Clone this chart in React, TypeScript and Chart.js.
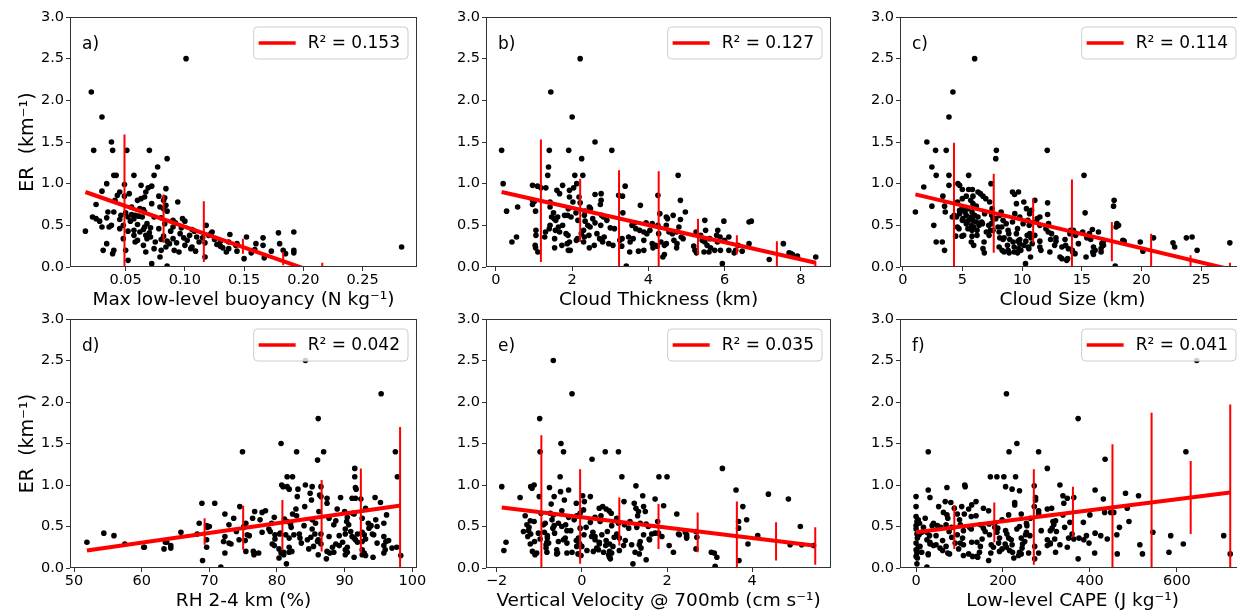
import React, { useEffect, useRef } from "react";
import { Chart, registerables } from "chart.js";

Chart.register(...registerables);

const FONT = "'DejaVu Sans', 'Liberation Sans', sans-serif";
const RED = "#ff0000";
const INK = "#000000";
const SPINE = "#333333";

// ---------- shared y axis ----------
const erTicks = [0, 0.5, 1.0, 1.5, 2.0, 2.5, 3.0];
const erTitle = "ER  (km\u207B\u00B9)";

// ---------- a) Max low-level buoyancy ----------
const buoyancyPoints: [number, number][] = [
  [0.101, 2.5], [0.021, 2.1], [0.03, 1.8], [0.038, 1.5],
  [0.023, 1.4], [0.039, 1.4], [0.051, 1.4], [0.07, 1.4],
  [0.085, 1.3], [0.077, 1.2],
  [0.04, 1.1], [0.042, 1.1], [0.057, 1.1], [0.074, 1.1],
  [0.034, 1.0], [0.049, 0.99], [0.063, 0.98], [0.072, 0.97],
  [0.084, 0.94], [0.069, 0.95],
  [0.03, 0.91], [0.045, 0.9], [0.067, 0.9], [0.053, 0.88],
  [0.043, 0.86], [0.049, 0.85], [0.066, 0.84], [0.078, 0.85],
  [0.041, 0.8], [0.06, 0.8], [0.063, 0.82], [0.082, 0.8], [0.083, 0.83],
  [0.094, 0.78],
  [0.025, 0.75], [0.072, 0.76], [0.084, 0.74],
  [0.055, 0.72], [0.079, 0.72],
  [0.062, 0.7], [0.065, 0.69], [0.082, 0.7],
  [0.035, 0.66], [0.04, 0.66], [0.05, 0.65], [0.066, 0.66], [0.085, 0.67],
  [0.046, 0.62], [0.055, 0.63], [0.058, 0.62], [0.061, 0.61],
  [0.022, 0.6], [0.034, 0.59], [0.052, 0.6], [0.064, 0.6], [0.074, 0.6], [0.08, 0.59],
  [0.025, 0.58], [0.045, 0.57], [0.057, 0.58], [0.098, 0.58],
  [0.028, 0.55], [0.054, 0.55], [0.1, 0.55], [0.09, 0.56],
  [0.068, 0.52], [0.083, 0.52], [0.092, 0.53],
  [0.048, 0.5], [0.038, 0.5], [0.06, 0.51], [0.118, 0.5],
  [0.03, 0.48], [0.036, 0.48], [0.066, 0.48], [0.071, 0.47], [0.09, 0.48], [0.097, 0.47],
  [0.045, 0.46], [0.065, 0.45], [0.078, 0.46], [0.106, 0.45],
  [0.016, 0.43], [0.052, 0.43], [0.057, 0.44], [0.062, 0.42], [0.088, 0.43], [0.108, 0.43], [0.123, 0.42],
  [0.07, 0.41], [0.096, 0.4], [0.122, 0.4], [0.179, 0.41], [0.192, 0.42],
  [0.057, 0.38], [0.067, 0.38], [0.082, 0.37], [0.104, 0.38], [0.12, 0.38], [0.138, 0.39],
  [0.071, 0.36], [0.099, 0.35], [0.11, 0.36], [0.115, 0.35], [0.152, 0.36],
  [0.048, 0.34], [0.068, 0.34], [0.08, 0.33], [0.09, 0.34], [0.125, 0.33], [0.166, 0.35],
  [0.06, 0.32], [0.085, 0.31], [0.102, 0.32], [0.13, 0.31],
  [0.058, 0.3], [0.075, 0.3], [0.093, 0.29], [0.112, 0.3], [0.117, 0.29], [0.137, 0.3],
  [0.034, 0.28], [0.087, 0.28], [0.127, 0.27], [0.144, 0.28], [0.16, 0.28], [0.18, 0.28],
  [0.065, 0.26], [0.1, 0.26], [0.13, 0.25], [0.143, 0.26], [0.166, 0.26],
  [0.084, 0.24], [0.106, 0.24], [0.132, 0.23], [0.283, 0.24],
  [0.074, 0.22], [0.105, 0.22], [0.137, 0.22], [0.159, 0.21],
  [0.031, 0.2], [0.04, 0.2], [0.05, 0.2], [0.08, 0.2], [0.091, 0.2], [0.109, 0.19], [0.144, 0.19], [0.173, 0.19], [0.183, 0.2], [0.192, 0.2],
  [0.067, 0.18], [0.095, 0.18], [0.135, 0.18], [0.156, 0.17], [0.192, 0.17],
  [0.039, 0.16], [0.185, 0.16],
  [0.079, 0.12], [0.117, 0.12],
  [0.15, 0.1], [0.167, 0.11],
  [0.052, 0.08], [0.072, 0.04], [0.085, 0.01],
];
const buoyancyFit = [0.9795, -4.97]; // intercept, slope
const buoyancyBinX = [0.049, 0.082, 0.116, 0.149, 0.183, 0.216];
const buoyancyBinLo = [-0.05, 0.29, 0.06, 0.16, 0.02, -0.05];
const buoyancyBinHi = [1.59, 0.87, 0.79, 0.34, 0.18, 0.05];
const buoyancyTicks = [0.05, 0.1, 0.15, 0.2, 0.25];

// ---------- b) Cloud thickness ----------
const thicknessPoints: [number, number][] = [
  [2.21, 2.5], [1.44, 2.1], [2.0, 1.8], [2.6, 1.5],
  [0.15, 1.4], [1.4, 1.4], [1.91, 1.4], [3.04, 1.4],
  [2.25, 1.3], [1.38, 1.2],
  [1.36, 1.1], [2.07, 1.1], [2.28, 1.1], [4.78, 1.1],
  [0.19, 1.0], [2.12, 1.0],
  [0.96, 0.98], [1.09, 0.97], [1.75, 0.98], [3.39, 0.97],
  [1.18, 0.95], [1.31, 0.95], [2.04, 0.95],
  [1.6, 0.92], [1.93, 0.92],
  [1.67, 0.88], [2.6, 0.87], [2.76, 0.88],
  [3.22, 0.86], [3.32, 0.85], [4.25, 0.86],
  [1.93, 0.84], [2.18, 0.84],
  [0.96, 0.8], [1.01, 0.79], [4.84, 0.8], [2.76, 0.8],
  [1.42, 0.78], [2.02, 0.78], [2.21, 0.77],
  [0.96, 0.75], [2.74, 0.75], [3.79, 0.74],
  [0.57, 0.72], [1.42, 0.72], [2.45, 0.72],
  [2.48, 0.7], [1.9, 0.7],
  [0.28, 0.67], [1.04, 0.67], [2.34, 0.67], [4.97, 0.66],
  [1.51, 0.65], [2.1, 0.65], [3.33, 0.65], [4.3, 0.64],
  [1.8, 0.62], [1.88, 0.62], [2.32, 0.62], [2.77, 0.62], [4.65, 0.62],
  [1.46, 0.6], [1.62, 0.6], [1.97, 0.6], [2.82, 0.6], [4.47, 0.6],
  [1.53, 0.58], [2.54, 0.58], [4.84, 0.57], [4.5, 0.58],
  [1.57, 0.56], [2.15, 0.56], [2.91, 0.56], [5.48, 0.56], [6.7, 0.55],
  [2.34, 0.55], [6.64, 0.54], [5.98, 0.55],
  [2.6, 0.53], [3.64, 0.53], [3.94, 0.53], [4.1, 0.52],
  [1.42, 0.5], [1.75, 0.5], [2.41, 0.5], [2.75, 0.5], [3.57, 0.5], [4.25, 0.5], [4.47, 0.5],
  [1.64, 0.48], [2.47, 0.48], [3.0, 0.47], [4.8, 0.48],
  [1.4, 0.46], [3.11, 0.46], [3.67, 0.46],
  [1.05, 0.44], [1.56, 0.44], [2.3, 0.44], [3.77, 0.44], [4.04, 0.44], [5.5, 0.44], [5.82, 0.44],
  [1.3, 0.42], [1.67, 0.42], [3.88, 0.42], [4.54, 0.42], [4.74, 0.42], [5.25, 0.42],
  [1.84, 0.4], [2.24, 0.4], [2.65, 0.4], [3.96, 0.4], [4.27, 0.4], [4.63, 0.4],
  [1.05, 0.38], [1.89, 0.38], [2.44, 0.38], [5.37, 0.38], [5.79, 0.38],
  [0.54, 0.36], [1.28, 0.36], [2.32, 0.36], [2.84, 0.36], [3.48, 0.36], [4.86, 0.36], [5.88, 0.36], [6.11, 0.36],
  [1.54, 0.34], [2.14, 0.34], [2.72, 0.34], [3.31, 0.34], [3.6, 0.34], [4.91, 0.34], [5.61, 0.34],
  [2.11, 0.32], [2.78, 0.32], [3.25, 0.32], [3.88, 0.32], [4.67, 0.32], [5.41, 0.32], [6.0, 0.32],
  [0.42, 0.3], [1.93, 0.3], [2.3, 0.3], [2.8, 0.3], [3.52, 0.3], [4.33, 0.3], [5.48, 0.3], [5.81, 0.3],
  [1.87, 0.28], [2.96, 0.28], [4.1, 0.28], [4.47, 0.28], [4.75, 0.28], [6.64, 0.28], [7.54, 0.28],
  [1.03, 0.26], [1.73, 0.26], [2.58, 0.26], [3.07, 0.26], [4.18, 0.26], [4.42, 0.26], [5.54, 0.26], [6.35, 0.26],
  [4.23, 0.25], [3.3, 0.25], [5.19, 0.25],
  [1.04, 0.23], [1.54, 0.23], [2.45, 0.23], [4.12, 0.23], [4.74, 0.23], [5.63, 0.23],
  [1.9, 0.2], [1.95, 0.2], [3.88, 0.2], [5.22, 0.2], [5.74, 0.2], [5.89, 0.2], [6.11, 0.2], [6.29, 0.2],
  [6.46, 0.19], [3.74, 0.19],
  [1.1, 0.18], [3.51, 0.18], [5.46, 0.18], [5.59, 0.18], [7.69, 0.17],
  [5.26, 0.17], [6.25, 0.17], [7.74, 0.16],
  [7.78, 0.15], [4.42, 0.15],
  [7.91, 0.13], [4.38, 0.12], [8.39, 0.12],
  [7.17, 0.09], [5.94, 0.04], [3.42, 0.01],
];
const thicknessFit = [0.915, -0.103];
const thicknessBinX = [1.18, 2.21, 3.23, 4.27, 5.3, 6.32, 7.37, 8.38];
const thicknessBinLo = [0.06, 0.3, -0.05, -0.05, 0.15, 0.15, 0.0, -0.02];
const thicknessBinHi = [1.53, 1.06, 1.16, 1.15, 0.58, 0.38, 0.31, 0.07];
const thicknessTicks = [0, 2, 4, 6, 8];

// ---------- c) Cloud size ----------
const sizePoints: [number, number][] = [
  [6.02, 2.5], [4.2, 2.1], [3.87, 1.8], [2.02, 1.5],
  [2.75, 1.4], [3.64, 1.4], [7.84, 1.4], [12.1, 1.4],
  [7.79, 1.3], [2.44, 1.2],
  [2.8, 1.1], [3.87, 1.1], [5.52, 1.1], [15.18, 1.1],
  [4.62, 1.0], [7.39, 1.0],
  [3.87, 0.98], [4.76, 0.98], [1.76, 0.96],
  [5.52, 0.93], [5.83, 0.93], [4.99, 0.93],
  [6.3, 0.9], [9.19, 0.9], [9.69, 0.9],
  [6.5, 0.88], [9.36, 0.87],
  [3.36, 0.85], [5.32, 0.85], [5.88, 0.85], [6.72, 0.85],
  [4.99, 0.82], [6.95, 0.82],
  [17.7, 0.8], [5.69, 0.8], [11.06, 0.8],
  [4.59, 0.78], [7.28, 0.78], [10.14, 0.78], [12.13, 0.77],
  [5.88, 0.76], [9.52, 0.76],
  [2.44, 0.73], [3.5, 0.73], [17.65, 0.73], [6.16, 0.73],
  [4.99, 0.7], [5.46, 0.7], [7.48, 0.7], [10.36, 0.7],
  [4.76, 0.68], [5.13, 0.68], [10.78, 0.68],
  [1.06, 0.66], [3.56, 0.66], [5.21, 0.66], [5.8, 0.66], [8.24, 0.66], [15.27, 0.65],
  [4.76, 0.64], [6.86, 0.64], [9.38, 0.64], [10.62, 0.64], [12.13, 0.63],
  [4.31, 0.62], [5.32, 0.62], [6.02, 0.62], [7.45, 0.62], [8.12, 0.62],
  [4.15, 0.6], [4.51, 0.6], [5.71, 0.6], [6.3, 0.6], [9.8, 0.6], [11.48, 0.6],
  [5.04, 0.58], [7.56, 0.58], [7.79, 0.58], [11.26, 0.58],
  [4.99, 0.56], [5.52, 0.56], [5.88, 0.56], [8.4, 0.56], [10.48, 0.56],
  [5.38, 0.54], [6.16, 0.54], [6.61, 0.54], [9.19, 0.54], [11.2, 0.54],
  [5.32, 0.52], [6.67, 0.52], [7.42, 0.52], [8.66, 0.52], [10.08, 0.52], [12.21, 0.52], [17.93, 0.52],
  [2.6, 0.5], [5.77, 0.5], [6.39, 0.5], [7.2, 0.5], [10.59, 0.5], [11.48, 0.5], [18.07, 0.5],
  [4.57, 0.48], [5.94, 0.48], [7.98, 0.48], [8.29, 0.48], [17.87, 0.48],
  [4.71, 0.46], [5.46, 0.46], [9.61, 0.46], [11.99, 0.46], [15.88, 0.45],
  [5.8, 0.44], [6.22, 0.44], [7.34, 0.44], [7.56, 0.44], [8.82, 0.44], [14.06, 0.44], [14.29, 0.44],
  [7.0, 0.42], [8.07, 0.42], [12.18, 0.42], [15.07, 0.42], [16.39, 0.42],
  [8.88, 0.4], [9.52, 0.4], [10.64, 0.4], [12.46, 0.4], [14.0, 0.4], [15.63, 0.4],
  [5.1, 0.38], [6.22, 0.38], [7.23, 0.38], [10.42, 0.38], [11.06, 0.38], [14.48, 0.38],
  [4.43, 0.37], [4.96, 0.37], [5.8, 0.37], [15.55, 0.37],
  [8.12, 0.35], [8.49, 0.35], [10.73, 0.35], [12.83, 0.35], [15.41, 0.35], [21.0, 0.35], [23.75, 0.35], [24.23, 0.36],
  [8.4, 0.33], [8.96, 0.33], [9.8, 0.33], [12.38, 0.33], [13.59, 0.33], [15.74, 0.33], [18.43, 0.32],
  [9.66, 0.31], [10.31, 0.31], [11.48, 0.31], [12.83, 0.31], [16.81, 0.31], [18.54, 0.31],
  [2.8, 0.3], [3.31, 0.3], [5.74, 0.3], [6.81, 0.3], [9.24, 0.3], [19.89, 0.3], [27.39, 0.29],
  [9.8, 0.28], [10.84, 0.28], [14.71, 0.28], [16.67, 0.28], [22.63, 0.29],
  [5.94, 0.26], [8.77, 0.26], [10.14, 0.26], [12.72, 0.26], [13.64, 0.26], [16.81, 0.26],
  [8.07, 0.24], [9.33, 0.24], [10.5, 0.24], [11.48, 0.24], [13.33, 0.24], [15.97, 0.24], [22.77, 0.24],
  [6.72, 0.22], [9.72, 0.22], [10.56, 0.22], [13.87, 0.22], [16.61, 0.22],
  [3.5, 0.2], [8.32, 0.2], [8.82, 0.2], [9.89, 0.2], [11.57, 0.2], [14.2, 0.2], [16.11, 0.2], [20.11, 0.19], [24.65, 0.2],
  [8.49, 0.18], [9.33, 0.18], [12.32, 0.18], [14.23, 0.18], [15.91, 0.18], [16.61, 0.18],
  [6.83, 0.17], [8.91, 0.17], [9.61, 0.17],
  [15.97, 0.15], [14.43, 0.16],
  [10.7, 0.12], [13.17, 0.12], [15.35, 0.12],
  [13.33, 0.1], [13.81, 0.1], [13.73, 0.08], [10.28, 0.04], [17.79, 0.01],
];
const sizeFit = [0.907, -0.0341];
const sizeBinX = [4.29, 7.62, 10.92, 14.17, 17.51, 20.8, 24.1, 27.4];
const sizeBinLo = [-0.05, 0.17, 0.29, -0.05, 0.07, 0.01, -0.02, -0.02];
const sizeBinHi = [1.49, 1.12, 0.82, 1.05, 0.54, 0.4, 0.14, 0.05];
const sizeTicks = [0, 5, 10, 15, 20, 25];

// ---------- d) RH 2-4 km ----------
const rhPoints: [number, number][] = [
  [84.2, 2.5], [95.4, 2.1], [86.1, 1.8], [80.6, 1.5],
  [74.9, 1.4], [82.9, 1.4], [86.9, 1.4], [97.5, 1.4],
  [86.0, 1.3], [91.5, 1.2],
  [81.5, 1.1], [82.3, 1.1], [91.5, 1.1], [97.8, 1.1],
  [80.7, 1.0], [80.9, 0.98], [84.2, 1.0], [85.2, 0.98], [91.6, 0.97],
  [81.5, 0.98], [86.5, 0.98],
  [81.8, 0.95], [83.1, 0.95], [91.7, 0.95],
  [84.9, 0.9], [86.3, 0.88],
  [83.0, 0.86], [86.5, 0.86], [89.4, 0.85], [94.5, 0.85],
  [87.4, 0.84], [91.6, 0.84], [92.4, 0.83],
  [85.1, 0.82], [91.1, 0.84],
  [68.9, 0.78], [70.8, 0.78], [87.4, 0.78], [95.3, 0.79],
  [74.5, 0.74], [84.1, 0.74],
  [82.8, 0.71], [88.9, 0.71], [93.1, 0.72],
  [77.8, 0.67], [82.3, 0.65], [91.2, 0.66],
  [76.7, 0.68], [78.3, 0.69], [86.2, 0.68], [90.0, 0.68],
  [72.3, 0.65], [91.4, 0.65], [96.2, 0.64],
  [73.6, 0.6], [79.6, 0.61], [82.9, 0.63], [87.7, 0.6], [90.4, 0.61], [92.6, 0.6],
  [76.4, 0.6], [81.1, 0.59], [85.2, 0.58], [88.7, 0.57], [94.6, 0.58],
  [77.5, 0.58], [81.5, 0.56], [85.7, 0.54], [90.3, 0.56], [93.5, 0.54],
  [68.5, 0.54], [75.4, 0.54], [79.2, 0.54], [82.0, 0.53], [90.6, 0.52], [95.8, 0.54],
  [69.6, 0.51], [70.0, 0.5], [72.9, 0.52], [75.1, 0.5], [84.0, 0.51], [88.4, 0.52], [93.9, 0.51], [94.8, 0.5],
  [69.7, 0.49], [75.1, 0.49], [78.8, 0.47], [82.1, 0.49], [85.2, 0.47], [90.1, 0.47], [93.6, 0.48],
  [65.8, 0.43], [79.0, 0.44], [90.9, 0.44], [92.6, 0.43],
  [74.0, 0.44], [77.8, 0.43], [80.5, 0.42], [85.6, 0.41], [91.9, 0.41], [94.3, 0.4],
  [68.2, 0.41], [80.4, 0.41], [82.5, 0.4], [89.2, 0.39], [94.1, 0.41],
  [75.9, 0.39], [83.3, 0.41], [86.5, 0.41], [90.1, 0.41], [92.9, 0.4],
  [75.6, 0.4], [79.7, 0.4], [81.3, 0.4], [87.7, 0.38], [91.1, 0.38],
  [72.3, 0.38], [85.0, 0.37], [91.4, 0.36], [95.8, 0.38],
  [81.8, 0.36], [83.4, 0.36], [86.1, 0.34], [93.1, 0.35],
  [74.4, 0.34], [79.7, 0.35], [91.6, 0.34], [96.5, 0.33],
  [75.3, 0.33], [84.5, 0.34], [86.0, 0.32], [92.6, 0.32],
  [51.9, 0.31], [72.1, 0.32], [91.9, 0.31], [96.1, 0.32],
  [63.5, 0.31], [69.6, 0.34], [72.9, 0.3], [83.6, 0.3], [89.7, 0.31], [94.8, 0.3],
  [73.2, 0.29], [79.3, 0.29], [86.5, 0.29], [88.7, 0.29],
  [64.3, 0.27], [79.6, 0.27], [85.4, 0.26], [89.2, 0.27], [95.8, 0.27],
  [60.3, 0.25], [69.6, 0.25], [81.8, 0.25], [88.2, 0.25], [90.4, 0.25], [97.7, 0.25],
  [63.3, 0.23], [64.3, 0.24], [80.3, 0.23], [84.7, 0.23], [97.0, 0.24],
  [90.1, 0.22], [92.6, 0.22], [96.0, 0.22],
  [75.4, 0.2], [76.5, 0.2], [81.0, 0.19], [82.2, 0.2], [87.4, 0.2], [88.4, 0.19], [90.4, 0.19],
  [72.3, 0.18], [76.7, 0.18], [77.3, 0.18], [80.6, 0.18], [81.8, 0.19], [87.8, 0.18], [92.9, 0.18], [95.8, 0.18],
  [76.6, 0.16], [81.0, 0.16],
  [86.1, 0.16], [90.1, 0.16], [92.6, 0.16],
  [93.1, 0.15], [98.3, 0.15],
  [91.4, 0.13], [94.2, 0.13],
  [80.3, 0.12], [87.3, 0.11], [69.0, 0.09], [81.4, 0.05], [71.7, 0.01],
  [54.4, 0.42], [55.9, 0.39], [60.4, 0.25], [63.7, 0.31], [57.5, 0.29],
];
const rhFit = [-0.399, 0.01173];
const rhBinX = [69.3, 75.0, 80.8, 86.6, 92.4, 98.2];
const rhBinLo = [0.28, 0.22, 0.22, 0.2, 0.18, -0.05];
const rhBinHi = [0.6, 0.75, 0.82, 1.06, 1.2, 1.7];
const rhTicks = [50, 60, 70, 80, 90, 100];

// ---------- e) Vertical velocity @ 700 mb ----------
const omegaPoints: [number, number][] = [
  [-0.67, 2.5], [-0.23, 2.1], [-0.99, 1.8], [-0.49, 1.5],
  [-0.98, 1.4], [-0.43, 1.4], [0.55, 1.4], [0.86, 1.4],
  [0.24, 1.31], [3.3, 1.2],
  [-0.51, 1.1], [0.94, 1.1], [1.81, 1.1], [2.0, 1.1],
  [-1.88, 0.98], [-1.2, 0.98], [-1.12, 1.0], [-1.17, 0.96], [-0.76, 0.97], [1.27, 0.99],
  [-0.31, 0.94], [-0.5, 0.92], [3.62, 0.94],
  [4.38, 0.89],
  [-1.45, 0.85], [-1.0, 0.86], [-0.65, 0.86], [0.02, 0.87], [0.2, 0.86], [1.43, 0.87],
  [-0.41, 0.82], [1.72, 0.83], [4.85, 0.83],
  [0.06, 0.8], [0.99, 0.8],
  [-0.13, 0.78], [1.23, 0.78], [1.92, 0.75], [3.78, 0.74],
  [-0.72, 0.77], [0.49, 0.74], [1.45, 0.74],
  [-0.47, 0.69], [0.41, 0.72], [0.57, 0.71], [1.27, 0.72],
  [0.04, 0.7], [0.64, 0.69], [1.33, 0.68], [1.49, 0.68],
  [-0.96, 0.66], [-0.74, 0.66], [-0.04, 0.66], [0.69, 0.66],
  [-0.67, 0.64], [0.45, 0.63], [1.31, 0.63], [2.23, 0.65], [3.87, 0.58],
  [-1.33, 0.63], [-0.12, 0.63], [-0.31, 0.61], [0.31, 0.61], [0.82, 0.6],
  [-1.12, 0.56], [-0.7, 0.58], [-0.18, 0.58], [0.43, 0.56], [1.13, 0.56], [1.78, 0.56],
  [-1.21, 0.57], [-0.86, 0.54], [-0.55, 0.54], [0.2, 0.55], [0.86, 0.54], [1.37, 0.54], [3.68, 0.56],
  [-1.29, 0.52], [-0.9, 0.52], [-0.38, 0.52], [0.7, 0.51], [1.0, 0.52], [1.51, 0.53],
  [-0.65, 0.51], [-0.47, 0.5], [0.1, 0.49], [1.29, 0.49], [1.56, 0.5], [5.13, 0.5],
  [-1.24, 0.49], [-0.68, 0.48], [-0.04, 0.48], [1.1, 0.48], [3.68, 0.48],
  [-1.25, 0.45], [-0.26, 0.45], [0.26, 0.43], [0.82, 0.41], [1.72, 0.42],
  [-0.88, 0.43], [-0.35, 0.45], [0.6, 0.44], [1.45, 0.4], [2.27, 0.41],
  [-1.37, 0.44], [-1.02, 0.42], [-0.64, 0.42], [0.47, 0.4], [1.64, 0.41], [1.8, 0.42], [2.43, 0.43], [2.68, 0.44],
  [-1.2, 0.41], [-0.81, 0.39], [0.05, 0.4], [2.29, 0.4], [2.46, 0.4],
  [-1.27, 0.38], [-0.81, 0.36], [0.23, 0.38], [0.88, 0.36], [2.46, 0.38], [2.7, 0.37], [4.13, 0.39],
  [-0.08, 0.36], [0.31, 0.38], [0.76, 0.37], [1.88, 0.38],
  [-0.98, 0.35], [-0.39, 0.36], [0.31, 0.34], [1.58, 0.35], [2.46, 0.36],
  [-0.43, 0.34], [-0.13, 0.33], [0.57, 0.33], [1.02, 0.33], [1.37, 0.32], [1.59, 0.34],
  [-1.11, 0.32], [-0.82, 0.31], [-0.55, 0.32], [-0.08, 0.32], [0.41, 0.31],
  [-1.78, 0.31], [-1.21, 0.29], [-0.78, 0.3], [-0.35, 0.3], [-0.05, 0.29], [0.65, 0.29], [3.9, 0.29],
  [-0.84, 0.28], [-0.12, 0.26], [0.41, 0.29], [0.56, 0.27], [0.98, 0.27], [1.17, 0.28], [1.35, 0.28], [4.89, 0.28], [5.16, 0.28],
  [0.0, 0.26], [0.73, 0.26], [0.35, 0.24], [2.05, 0.27], [5.44, 0.27],
  [-0.84, 0.24], [0.39, 0.22], [0.88, 0.21], [1.39, 0.24],
  [-1.83, 0.21], [-0.59, 0.22], [0.12, 0.21], [0.51, 0.19], [0.65, 0.2], [2.68, 0.23],
  [-1.16, 0.2], [-0.82, 0.19], [-0.23, 0.19], [0.27, 0.2], [0.7, 0.18], [1.25, 0.19], [2.15, 0.19], [3.04, 0.19], [3.11, 0.18],
  [-1.06, 0.18], [-0.57, 0.18], [-0.35, 0.18], [-0.09, 0.17], [0.63, 0.16], [1.35, 0.17],
  [-1.1, 0.16], [-0.59, 0.17], [-0.02, 0.15], [0.65, 0.14],
  [0.65, 0.13], [3.17, 0.13],
  [0.67, 0.11], [1.51, 0.1],
  [3.69, 0.09], [1.2, 0.05], [3.13, 0.02],
];
const omegaFit = [0.612, -0.0628];
const omegaBinX = [-0.95, -0.04, 0.88, 1.8, 2.72, 3.64, 4.56, 5.48];
const omegaBinLo = [-0.05, 0.05, 0.27, 0.23, 0.19, -0.05, 0.09, 0.04];
const omegaBinHi = [1.6, 1.19, 0.85, 0.77, 0.67, 0.8, 0.55, 0.49];
const omegaTicks = [-2, 0, 2, 4];

// ---------- f) Low-level CAPE ----------
const capePoints: [number, number][] = [
  [646, 2.5], [208, 2.1], [373, 1.8], [232, 1.5],
  [28, 1.4], [214, 1.4], [282, 1.4], [621, 1.4],
  [435, 1.31], [302, 1.2],
  [171, 1.1], [186, 1.1], [202, 1.1], [229, 1.1],
  [112, 1.0], [113, 0.98], [206, 0.98], [331, 1.0], [272, 0.99],
  [71, 0.97], [221, 0.95], [412, 0.94],
  [28, 0.94], [238, 0.93], [482, 0.9],
  [0, 0.86], [32, 0.85], [275, 0.85], [338, 0.87], [512, 0.87], [431, 0.83],
  [275, 0.82], [348, 0.84], [363, 0.85],
  [67, 0.8], [80, 0.79], [138, 0.8], [227, 0.79], [340, 0.78],
  [0, 0.74], [88, 0.72], [128, 0.76], [227, 0.76], [302, 0.71], [486, 0.72],
  [52, 0.74], [105, 0.74], [155, 0.72], [272, 0.74], [455, 0.67], [448, 0.67],
  [121, 0.71], [167, 0.69], [282, 0.69], [312, 0.72],
  [63, 0.67], [95, 0.65], [213, 0.64], [282, 0.66], [434, 0.67],
  [71, 0.64], [111, 0.65], [242, 0.65], [400, 0.64],
  [0, 0.62], [21, 0.6], [127, 0.62], [138, 0.63], [263, 0.6], [338, 0.64],
  [5, 0.58], [73, 0.6], [100, 0.58], [198, 0.58], [315, 0.56], [321, 0.57],
  [2, 0.56], [40, 0.54], [69, 0.52], [181, 0.54], [254, 0.54], [490, 0.56], [354, 0.55],
  [8, 0.54], [49, 0.51], [102, 0.52], [148, 0.52], [168, 0.53], [255, 0.51], [385, 0.55],
  [0, 0.51], [37, 0.51], [57, 0.49], [123, 0.49], [181, 0.49], [238, 0.5], [317, 0.52], [468, 0.49],
  [17, 0.49], [82, 0.49], [127, 0.47], [155, 0.48], [188, 0.48], [313, 0.48], [232, 0.47], [342, 0.49],
  [0, 0.47], [13, 0.43], [76, 0.44], [109, 0.45], [159, 0.44], [206, 0.45], [254, 0.43],
  [25, 0.43], [95, 0.4], [186, 0.43], [209, 0.41], [323, 0.44], [359, 0.41], [412, 0.42], [462, 0.4],
  [2, 0.41], [7, 0.4], [169, 0.4], [252, 0.4], [288, 0.45], [309, 0.45], [545, 0.43],
  [31, 0.39], [46, 0.39], [82, 0.37], [107, 0.36], [192, 0.36], [213, 0.36], [262, 0.39], [392, 0.39], [586, 0.39], [708, 0.39],
  [3, 0.36], [25, 0.34], [152, 0.35], [242, 0.36], [302, 0.34], [319, 0.35], [425, 0.39], [440, 0.35],
  [61, 0.33], [128, 0.31], [219, 0.34], [250, 0.32], [351, 0.36], [375, 0.36],
  [32, 0.31], [90, 0.3], [140, 0.31], [190, 0.3], [309, 0.3], [363, 0.35], [386, 0.34],
  [46, 0.28], [102, 0.3], [205, 0.29], [245, 0.29], [331, 0.28],
  [0, 0.3], [32, 0.29], [69, 0.26], [109, 0.28], [173, 0.28], [221, 0.28], [273, 0.26], [398, 0.3],
  [9, 0.26], [40, 0.27], [148, 0.26], [178, 0.25], [208, 0.25], [309, 0.29], [302, 0.27],
  [5, 0.25], [244, 0.24], [515, 0.28],
  [55, 0.24], [98, 0.23], [198, 0.23], [348, 0.25], [615, 0.29],
  [0, 0.22], [61, 0.21], [192, 0.2], [215, 0.21],
  [2, 0.2], [13, 0.19], [73, 0.18], [146, 0.19], [222, 0.19], [238, 0.19], [259, 0.18], [321, 0.19], [411, 0.18],
  [2, 0.18], [28, 0.17], [121, 0.17], [172, 0.18], [242, 0.17], [282, 0.18], [582, 0.19],
  [28, 0.16], [77, 0.17], [109, 0.15], [140, 0.14], [236, 0.15], [463, 0.17], [521, 0.17], [723, 0.17],
  [0, 0.14], [130, 0.14], [142, 0.13],
  [3, 0.12], [225, 0.12],
  [167, 0.09], [373, 0.11], [273, 0.11],
  [2, 0.05], [25, 0.01],
];
const capeFit = [0.43, 0.000664];
const capeBinX = [88, 180, 271, 361, 452, 542, 632, 723];
const capeBinLo = [0.23, 0.31, 0.04, 0.37, -0.05, -0.05, 0.41, -0.05];
const capeBinHi = [0.76, 0.79, 1.19, 0.98, 1.49, 1.87, 1.29, 1.97];
const capeTicks = [0, 200, 400, 600];

// ---------- layout ----------
const PAD_L = 70;
const PAD_T = 17;
const PAD_R = 20;
const PAD_B = 50;

type PanelDef = {
  letter: string;
  r2: string;
  points: [number, number][];
  fit: number[];
  binX: number[];
  binLo: number[];
  binHi: number[];
  xMin: number;
  xMax: number;
  xTicks: number[];
  xDecimals: number;
  xTitle: string;
  yTitle: boolean;
  box: { left: number; top: number; width: number; height: number };
};

const panels: PanelDef[] = [
  {
    letter: "a)", r2: "0.153", points: buoyancyPoints, fit: buoyancyFit,
    binX: buoyancyBinX, binLo: buoyancyBinLo, binHi: buoyancyBinHi,
    xMin: 0.003, xMax: 0.296, xTicks: buoyancyTicks, xDecimals: 2,
    xTitle: "Max low-level buoyancy (N kg\u207B\u00B9)", yTitle: true,
    box: { left: 70, top: 17, width: 347, height: 250 },
  },
  {
    letter: "b)", r2: "0.127", points: thicknessPoints, fit: thicknessFit,
    binX: thicknessBinX, binLo: thicknessBinLo, binHi: thicknessBinHi,
    xMin: -0.26, xMax: 8.79, xTicks: thicknessTicks, xDecimals: 0,
    xTitle: "Cloud Thickness (km)", yTitle: false,
    box: { left: 486, top: 17, width: 345, height: 250 },
  },
  {
    letter: "c)", r2: "0.114", points: sizePoints, fit: sizeFit,
    binX: sizeBinX, binLo: sizeBinLo, binHi: sizeBinHi,
    xMin: -0.23, xMax: 28.66, xTicks: sizeTicks, xDecimals: 0,
    xTitle: "Cloud Size (km)", yTitle: false,
    box: { left: 900, top: 17, width: 345, height: 250 },
  },
  {
    letter: "d)", r2: "0.042", points: rhPoints, fit: rhFit,
    binX: rhBinX, binLo: rhBinLo, binHi: rhBinHi,
    xMin: 49.4, xMax: 100.7, xTicks: rhTicks, xDecimals: 0,
    xTitle: "RH 2-4 km (%)", yTitle: true,
    box: { left: 70, top: 319, width: 347, height: 249 },
  },
  {
    letter: "e)", r2: "0.035", points: omegaPoints, fit: omegaFit,
    binX: omegaBinX, binLo: omegaBinLo, binHi: omegaBinHi,
    xMin: -2.25, xMax: 5.85, xTicks: omegaTicks, xDecimals: 0,
    xTitle: "Vertical Velocity @ 700mb (cm s\u207B\u00B9)", yTitle: false,
    box: { left: 486, top: 319, width: 345, height: 249 },
  },
  {
    letter: "f)", r2: "0.041", points: capePoints, fit: capeFit,
    binX: capeBinX, binLo: capeBinLo, binHi: capeBinHi,
    xMin: -37, xMax: 757, xTicks: capeTicks, xDecimals: 0,
    xTitle: "Low-level CAPE (J kg\u207B\u00B9)", yTitle: false,
    box: { left: 900, top: 319, width: 345, height: 249 },
  },
];

function fmt(v: number, dec: number) {
  const s = Number(v).toFixed(dec);
  return s.replace("-", "\u2212");
}

function PanelChart({ def }: { def: PanelDef }) {
  const ref = useRef<HTMLCanvasElement>(null);
  const cw = PAD_L + def.box.width + PAD_R;
  const ch = PAD_T + def.box.height + PAD_B;

  useEffect(() => {
    const canvas = ref.current;
    if (!canvas) return;
    const xs = def.points.map((p) => p[0]);
    const x0 = Math.min(...xs);
    const x1 = Math.max(...xs);
    const fitLine = [x0, x1].map((x) => ({ x, y: def.fit[0] + def.fit[1] * x }));
    const bars: { x: number; y: number | null }[] = [];
    def.binX.forEach((x, i) => {
      bars.push({ x, y: def.binLo[i] }, { x, y: def.binHi[i] }, { x, y: null });
    });

    const decor = {
      id: "decor" + def.letter,
      afterDatasetsDraw(chart: any) {
        const { ctx, chartArea } = chart;
        const { left, top, right, bottom } = chartArea;
        ctx.save();
        ctx.strokeStyle = SPINE;
        ctx.lineWidth = 1;
        ctx.strokeRect(left + 0.5, top + 0.5, right - left - 1, bottom - top - 1);
        ctx.restore();
      },
      afterDraw(chart: any) {
        const { ctx, chartArea } = chart;
        const { left, top, right } = chartArea;
        ctx.save();
        // panel letter
        ctx.fillStyle = INK;
        ctx.font = `17px ${FONT}`;
        ctx.textBaseline = "middle";
        ctx.textAlign = "left";
        ctx.fillText(def.letter, left + 12, top + 28);
        // legend box
        const text = `R\u00B2 = ${def.r2}`;
        ctx.font = `17px ${FONT}`;
        const tw = ctx.measureText(text).width;
        const w = 5 + 37 + 12 + tw + 8;
        const h = 32;
        const x = right - 9 - w;
        const y = top + 10;
        const r = 4;
        ctx.beginPath();
        ctx.moveTo(x + r, y);
        ctx.lineTo(x + w - r, y);
        ctx.arcTo(x + w, y, x + w, y + r, r);
        ctx.lineTo(x + w, y + h - r);
        ctx.arcTo(x + w, y + h, x + w - r, y + h, r);
        ctx.lineTo(x + r, y + h);
        ctx.arcTo(x, y + h, x, y + h - r, r);
        ctx.lineTo(x, y + r);
        ctx.arcTo(x, y, x + r, y, r);
        ctx.closePath();
        ctx.fillStyle = "rgba(255,255,255,0.8)";
        ctx.fill();
        ctx.strokeStyle = "#cccccc";
        ctx.lineWidth = 1;
        ctx.stroke();
        ctx.beginPath();
        ctx.moveTo(x + 5, y + h / 2);
        ctx.lineTo(x + 42, y + h / 2);
        ctx.strokeStyle = RED;
        ctx.lineWidth = 3.5;
        ctx.stroke();
        ctx.fillStyle = INK;
        ctx.fillText(text, x + 54, y + h / 2 + 1);
        ctx.restore();
      },
    };

    const chart = new Chart(canvas, {
      type: "scatter",
      data: {
        datasets: [
          {
            data: fitLine,
            showLine: true,
            borderColor: RED,
            borderWidth: 4,
            pointRadius: 0,
            clip: 0,
          } as any,
          {
            data: bars,
            showLine: true,
            spanGaps: false,
            borderColor: RED,
            borderWidth: 2,
            pointRadius: 0,
            clip: 0,
          } as any,
          {
            data: def.points.map(([x, y]) => ({ x, y })),
            pointRadius: 2.8,
            pointBackgroundColor: INK,
            backgroundColor: INK,
            borderWidth: 0,
            pointBorderWidth: 0,
            clip: 0,
          } as any,
        ],
      },
      options: {
        responsive: false,
        maintainAspectRatio: false,
        animation: false,
        events: [],
        layout: { padding: { left: 0, top: PAD_T, right: PAD_R, bottom: 0 } },
        plugins: { legend: { display: false }, tooltip: { enabled: false } },
        scales: {
          x: {
            type: "linear",
            min: def.xMin,
            max: def.xMax,
            afterFit: (s: any) => {
              s.height = PAD_B;
            },
            afterBuildTicks: (s: any) => {
              s.ticks = def.xTicks.map((v) => ({ value: v }));
            },
            ticks: {
              callback: (v: any) => fmt(v, def.xDecimals),
              font: { family: FONT, size: 14.5 },
              color: INK,
              padding: 1,
              maxRotation: 0,
              autoSkip: false,
            },
            grid: {
              display: true,
              drawOnChartArea: false,
              drawTicks: true,
              tickLength: 4,
              color: SPINE,
              lineWidth: 1,
            },
            border: { display: false },
            title: {
              display: true,
              text: def.xTitle,
              color: INK,
              font: { family: FONT, size: 18.5 },
              padding: { top: 0, bottom: 6 },
            },
          },
          y: {
            type: "linear",
            min: 0,
            max: 3,
            afterFit: (s: any) => {
              s.width = PAD_L;
            },
            afterBuildTicks: (s: any) => {
              s.ticks = erTicks.map((v) => ({ value: v }));
            },
            ticks: {
              callback: (v: any) => fmt(v, 1),
              font: { family: FONT, size: 14.5 },
              color: INK,
              padding: 2,
              autoSkip: false,
            },
            grid: {
              display: true,
              drawOnChartArea: false,
              drawTicks: true,
              tickLength: 4,
              color: SPINE,
              lineWidth: 1,
            },
            border: { display: false },
            title: {
              display: def.yTitle,
              text: erTitle,
              color: INK,
              font: { family: FONT, size: 19 },
              padding: { top: 17, bottom: 0 },
            },
          },
        },
      } as any,
      plugins: [decor],
    });
    return () => chart.destroy();
  }, []);

  return (
    <canvas
      ref={ref}
      width={cw}
      height={ch}
      style={{
        position: "absolute",
        left: def.box.left - PAD_L,
        top: def.box.top - PAD_T,
        width: cw,
        height: ch,
      }}
    />
  );
}

export default function App() {
  return (
    <div
      style={{
        position: "fixed",
        left: 0,
        top: 0,
        width: 1237,
        height: 614,
        overflow: "hidden",
        background: "#ffffff",
      }}
    >
      {panels.map((p) => (
        <PanelChart key={p.letter} def={p} />
      ))}
    </div>
  );
}
